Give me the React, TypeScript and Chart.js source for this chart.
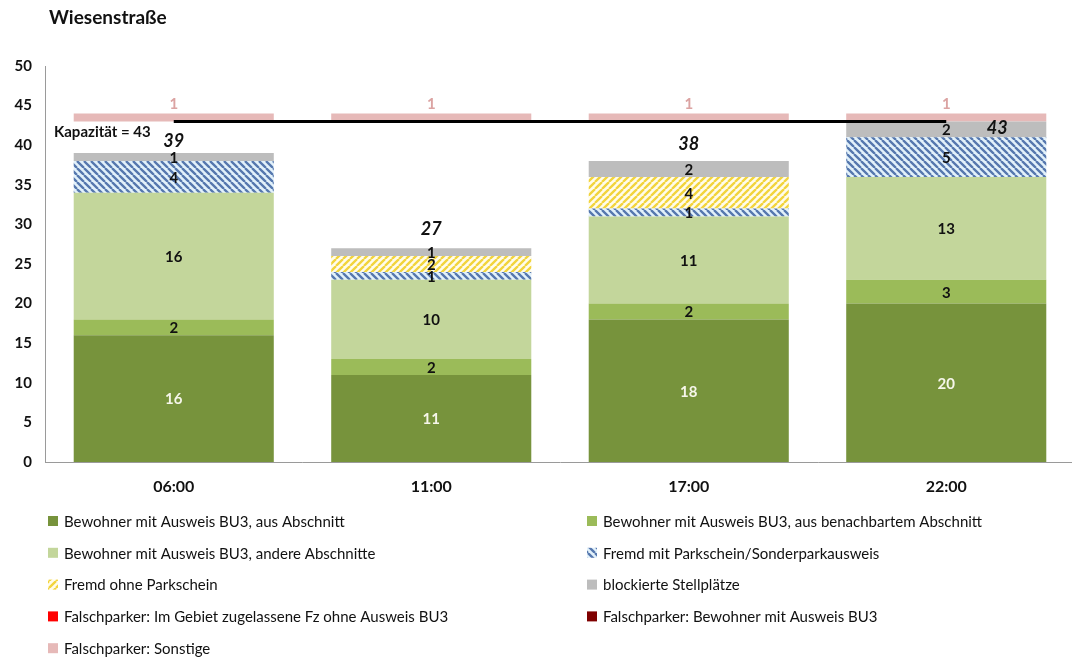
import React, { useEffect, useRef } from 'react';
import { Chart, registerables } from 'chart.js';

Chart.register(...registerables);

const FONT = 'Lato, "Open Sans", "DejaVu Sans", sans-serif';

const chartTitle = 'Wiesenstraße';
const categories = ['06:00', '11:00', '17:00', '22:00'];
const bewohnerAbschnitt = [16, 11, 18, 20];
const bewohnerNachbar = [2, 2, 2, 3];
const bewohnerAndere = [16, 10, 11, 13];
const fremdMitSchein = [4, 1, 1, 5];
const fremdOhneSchein = [0, 2, 4, 0];
const blockiert = [1, 1, 2, 2];
const falschGebiet = [0, 0, 0, 0];
const falschBewohner = [0, 0, 0, 0];
const falschSonstige = [1, 1, 1, 1];
const kapazitaet = 43;
const yMin = 0;
const yMax = 50;
const yStep = 5;

function makeHatch(bg: string, fg: string, dir: 'back' | 'fwd', size = 7, lw = 2.3) {
  const c = document.createElement('canvas');
  c.width = size;
  c.height = size;
  const g = c.getContext('2d')!;
  g.fillStyle = bg;
  g.fillRect(0, 0, size, size);
  g.strokeStyle = fg;
  g.lineWidth = lw;
  g.beginPath();
  for (const k of [-size, 0, size]) {
    if (dir === 'back') {
      g.moveTo(k, 0);
      g.lineTo(k + size, size);
    } else {
      g.moveTo(k + size, 0);
      g.lineTo(k, size);
    }
  }
  g.stroke();
  return g.createPattern(c, 'repeat')!;
}

export default function App() {
  const ref = useRef<HTMLCanvasElement>(null);

  useEffect(() => {
    const canvas = ref.current!;
    const blueHatch = makeHatch('#E2F1FA', '#5577AE', 'back');
    const yellowHatch = makeHatch('#FFFCEB', '#F2D43C', 'fwd');

    const stackSeries = [
      { label: 'Bewohner mit Ausweis BU3, aus Abschnitt', data: bewohnerAbschnitt, color: '#77933C', text: '#F6F6EA' },
      { label: 'Bewohner mit Ausweis BU3, aus benachbartem Abschnitt', data: bewohnerNachbar, color: '#9BBB59', text: '#111' },
      { label: 'Bewohner mit Ausweis BU3, andere Abschnitte', data: bewohnerAndere, color: '#C3D69B', text: '#111' },
      { label: 'Fremd mit Parkschein/Sonderparkausweis', data: fremdMitSchein, color: blueHatch as any, text: '#111' },
      { label: 'Fremd ohne Parkschein', data: fremdOhneSchein, color: yellowHatch as any, text: '#111' },
      { label: 'blockierte Stellplätze', data: blockiert, color: '#BDBDBD', text: '#111' },
      { label: 'Falschparker: Im Gebiet zugelassene Fz ohne Ausweis BU3', data: falschGebiet, color: '#FF0000', text: '#111' },
      { label: 'Falschparker: Bewohner mit Ausweis BU3', data: falschBewohner, color: '#7F0000', text: '#fff' },
    ];
    const pinkColor = '#E6B9B8';
    const pinkLabel = 'Falschparker: Sonstige';
    const pinkIndex = stackSeries.length;

    const legendItems = [
      ...stackSeries.map((s) => ({ label: s.label, color: s.color })),
      { label: pinkLabel, color: pinkColor },
    ];

    const datasets: any[] = [
      ...stackSeries.map((s) => ({
        type: 'bar',
        label: s.label,
        data: s.data,
        backgroundColor: s.color,
        borderWidth: 0,
        stack: 'main',
        order: 1,
      })),
      {
        type: 'bar',
        label: pinkLabel,
        data: falschSonstige.map((v) => [kapazitaet, kapazitaet + v]),
        backgroundColor: pinkColor,
        borderWidth: 0,
        stack: 'cap',
        grouped: false,
        order: 1,
      },
      {
        type: 'line',
        label: 'Kapazität',
        data: categories.map(() => kapazitaet),
        borderColor: '#000',
        borderWidth: 3,
        pointRadius: 0,
        stack: 'line',
        order: 0,
      },
    ];

    const totalOffsets = [
      { dx: 0, dy: -12 },
      { dx: 0, dy: -19 },
      { dx: 0, dy: -17 },
      { dx: 51, dy: 7 },
    ];

    const overlay = {
      id: 'overlay',
      afterDatasetsDraw(chart: any) {
        const ctx = chart.ctx as CanvasRenderingContext2D;
        ctx.save();
        ctx.textAlign = 'center';
        ctx.textBaseline = 'middle';
        // segment labels
        ctx.font = `bold 15px ${FONT}`;
        stackSeries.forEach((s, i) => {
          const meta = chart.getDatasetMeta(i);
          meta.data.forEach((el: any, j: number) => {
            const v = s.data[j];
            if (!v) return;
            ctx.fillStyle = s.text;
            ctx.fillText(String(v), el.x, (el.y + el.base) / 2 + 1);
          });
        });
        // pink labels
        const pm = chart.getDatasetMeta(pinkIndex);
        pm.data.forEach((el: any, j: number) => {
          ctx.fillStyle = '#DBA3A2';
          ctx.fillText(String(falschSonstige[j]), el.x, el.y - 9);
        });
        // totals
        ctx.font = `italic bold 18px ${FONT}`;
        ctx.fillStyle = '#111';
        categories.forEach((_, j) => {
          let total = 0;
          stackSeries.forEach((s) => (total += s.data[j]));
          const topEl: any = chart.getDatasetMeta(0).data[j];
          const yPix = chart.scales.y.getPixelForValue(total);
          const o = totalOffsets[j];
          ctx.fillText(String(total), topEl.x + o.dx, yPix + o.dy);
        });
        // capacity label
        ctx.font = `bold 15px ${FONT}`;
        ctx.textAlign = 'left';
        ctx.fillStyle = '#111';
        ctx.fillText(`Kapazität = ${kapazitaet}`, 54, chart.scales.y.getPixelForValue(kapazitaet) + 11);
        // title
        ctx.font = `bold 19px ${FONT}`;
        ctx.fillText(chartTitle, 49, 18);
        // legend
        ctx.font = `15px ${FONT}`;
        const colX = [48, 587];
        legendItems.forEach((it, i) => {
          const col = i % 2;
          const row = Math.floor(i / 2);
          const cy = 521 + row * 31.8;
          const x = colX[col];
          ctx.fillStyle = it.color as any;
          ctx.fillRect(x, cy - 5, 10, 10);
          ctx.fillStyle = '#111';
          ctx.fillText(it.label, x + 16, cy + 1);
        });
        ctx.restore();
      },
    };

    const chart = new Chart(canvas, {
      type: 'bar',
      data: { labels: categories, datasets },
      options: {
        responsive: false,
        animation: false,
        layout: { padding: { top: 66, right: 5, left: 0, bottom: 0 } },
        datasets: {
          bar: { categoryPercentage: 1, barPercentage: 0.777 },
        } as any,
        plugins: {
          legend: { display: false },
          title: { display: false },
          tooltip: { enabled: false },
        },
        scales: {
          x: {
            stacked: true,
            grid: { display: false, drawTicks: false },
            border: { display: true, color: '#9A9A9A', width: 1 },
            ticks: { font: { family: FONT, size: 16, weight: 'bold' }, color: '#111', padding: 15 },
            afterFit: (scale: any) => {
              scale.height = 199;
            },
          },
          y: {
            stacked: true,
            min: yMin,
            max: yMax,
            grid: { display: false, drawTicks: false },
            border: { display: true, color: '#9A9A9A', width: 1 },
            ticks: { stepSize: yStep, font: { family: FONT, size: 15, weight: 'bold' }, color: '#111', padding: 13 },
            afterFit: (scale: any) => {
              scale.width = 45;
            },
          },
        },
      } as any,
      plugins: [overlay],
    });

    return () => chart.destroy();
  }, []);

  return (
    <canvas
      ref={ref}
      width={1080}
      height={661}
      style={{ position: 'fixed', left: 0, top: 0, width: 1080, height: 661, background: '#fff' }}
    />
  );
}
